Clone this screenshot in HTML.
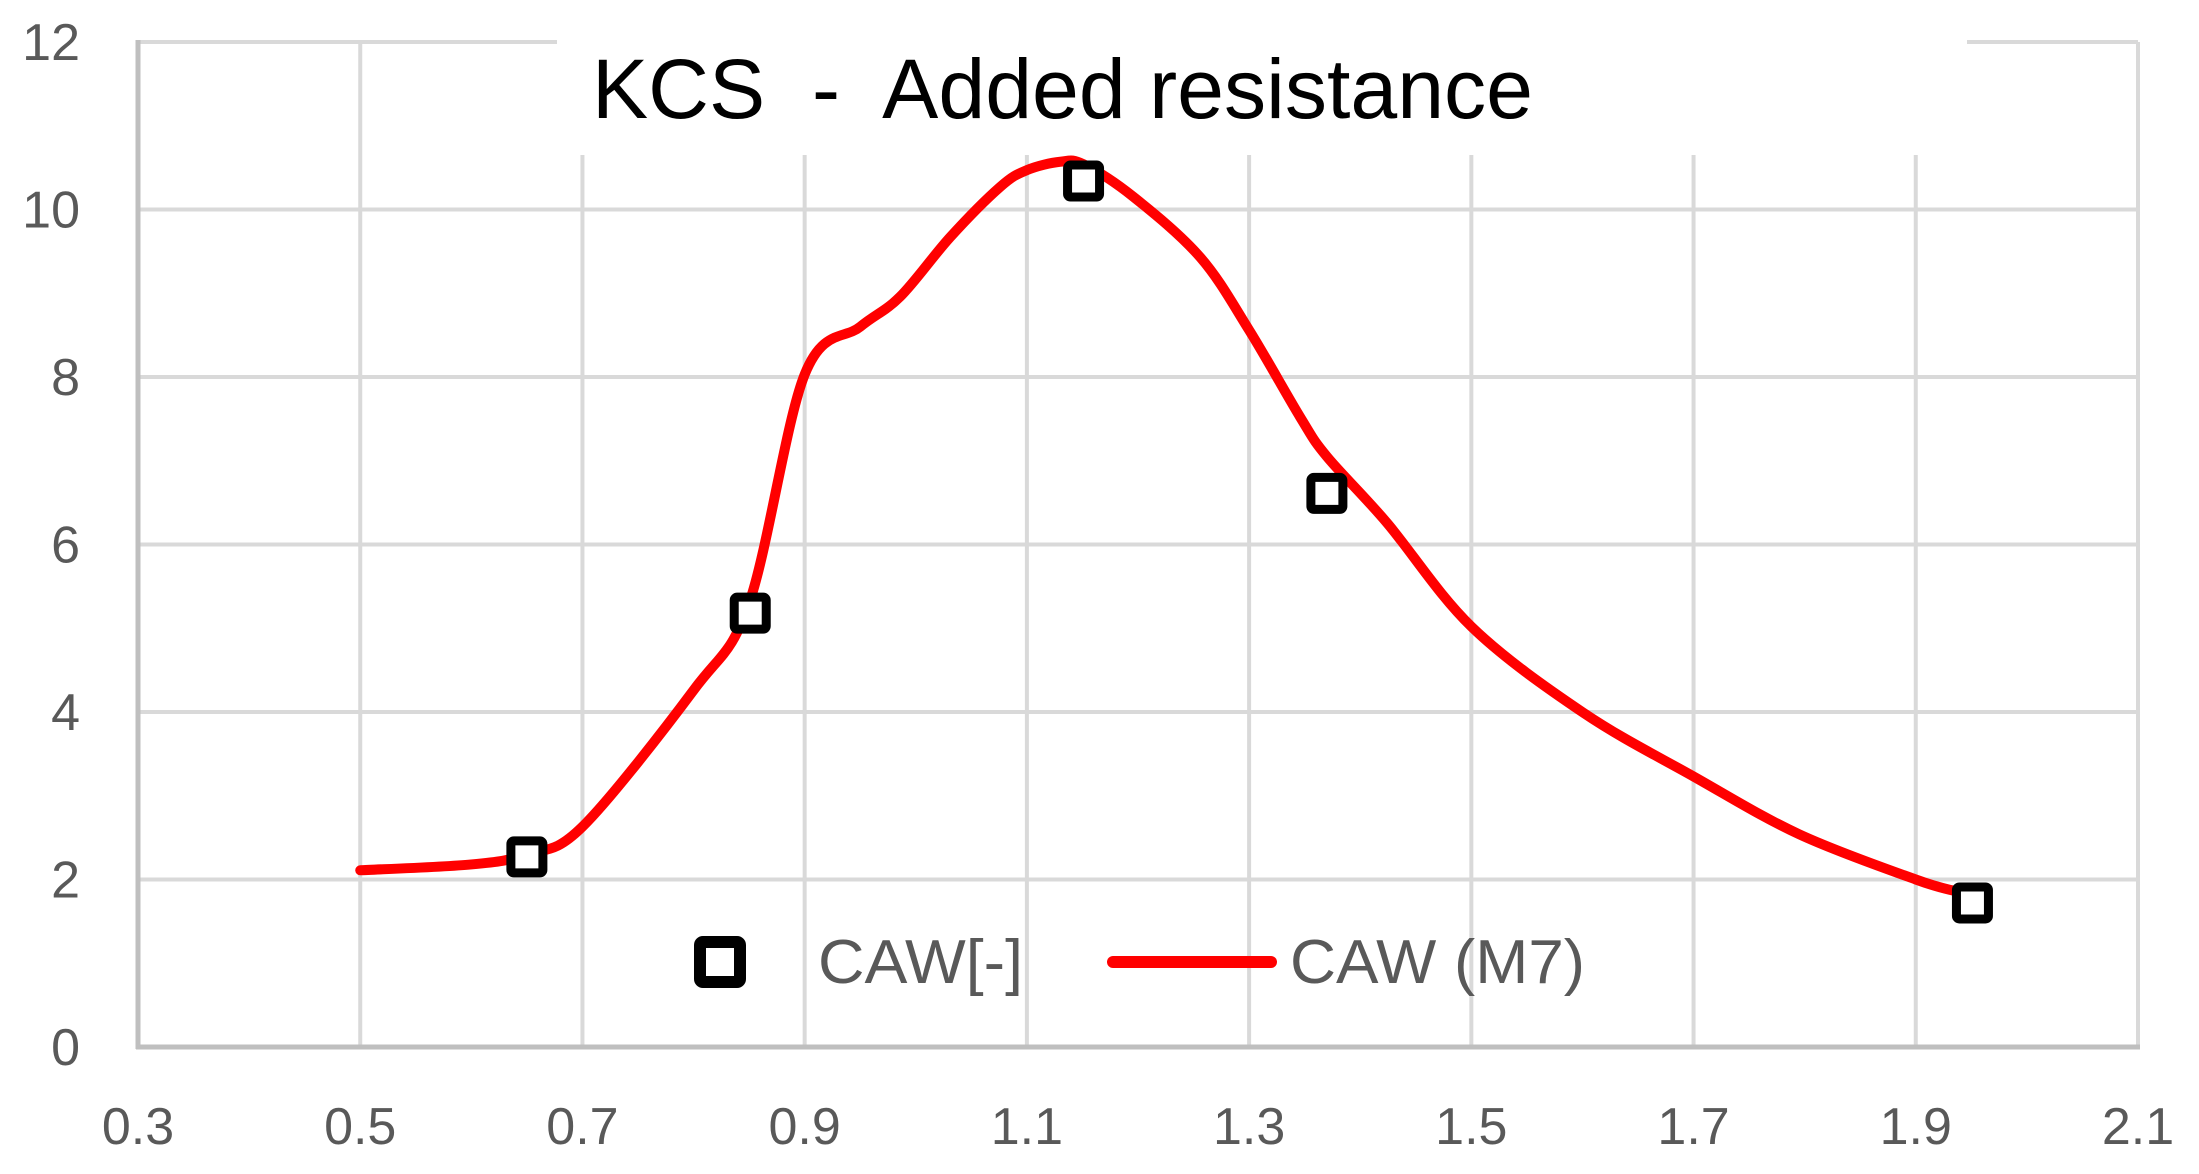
<!DOCTYPE html>
<html><head><meta charset="utf-8"><style>
html,body{margin:0;padding:0;background:#fff;width:2199px;height:1174px;overflow:hidden}
svg{display:block}
</style></head><body>
<svg id="chart" width="2199" height="1174" viewBox="0 0 2199 1174" xmlns="http://www.w3.org/2000/svg">
<rect width="2199" height="1174" fill="#fff"/>
<g id="grid"></g>
<g id="axes"></g>
<rect x="557" y="28" width="1410" height="127" fill="#fff"/>
<text x="592" y="118" font-family="Liberation Sans, Arial, sans-serif" font-size="84" fill="#000" textLength="941" lengthAdjust="spacingAndGlyphs" xml:space="preserve">KCS  -  Added resistance</text>
<g id="series"></g>
<g>
  <rect x="700" y="942" width="40" height="40" rx="3" fill="#fff" stroke="#000" stroke-width="12"/>
  <text x="818" y="983" font-family="Liberation Sans, sans-serif" font-size="62" fill="#595959" textLength="205" lengthAdjust="spacingAndGlyphs">CAW[-]</text>
  <line x1="1113" y1="962" x2="1271" y2="962" stroke="#ff0000" stroke-width="12" stroke-linecap="round"/>
  <text x="1290" y="983" font-family="Liberation Sans, sans-serif" font-size="62" fill="#595959" textLength="295" lengthAdjust="spacingAndGlyphs">CAW (M7)</text>
</g>
</svg>
<script>
const xTicks = [0.3,0.5,0.7,0.9,1.1,1.3,1.5,1.7,1.9,2.1];
const xTickLabels = ["0.3","0.5","0.7","0.9","1.1","1.3","1.5","1.7","1.9","2.1"];
const yTicks = [0,2,4,6,8,10,12];
const yTickLabels = ["0","2","4","6","8","10","12"];
const cawX = [0.65,0.851,1.151,1.370,1.951];
const cawY = [2.27,5.18,10.34,6.61,1.72];
const m7X = [0.5,0.6,0.65,0.7,0.8,0.85,0.9,0.95,0.986,1.031,1.076,1.1,1.13,1.151,1.196,1.256,1.3,1.346,1.37,1.424,1.5,1.601,1.7,1.795,1.9,1.936];
const m7Y = [2.11,2.18,2.3,2.63,4.26,5.3,8.03,8.6,8.96,9.67,10.27,10.47,10.57,10.54,10.15,9.43,8.56,7.52,7.05,6.26,5.02,3.99,3.23,2.54,2.0,1.86];

const X0=138, X1=2138, Y0=1047, Y1=42;
const xMin=0.3,xMax=2.1,yMin=0,yMax=12;
function sx(v){return X0+(v-xMin)/(xMax-xMin)*(X1-X0);}
function sy(v){return Y0-(v-yMin)/(yMax-yMin)*(Y0-Y1);}
const NS="http://www.w3.org/2000/svg";
function mk(tag,attrs,parent){const e=document.createElementNS(NS,tag);for(const k in attrs)e.setAttribute(k,attrs[k]);parent.appendChild(e);return e;}
const grid=document.getElementById('grid'), axes=document.getElementById('axes'), series=document.getElementById('series');

yTicks.forEach((t,i)=>{
  if(t!==0){
    const l=mk('line',{x1:X0,x2:X1,y1:sy(t),y2:sy(t),stroke:'#d9d9d9','stroke-width':4},grid);
    
    
  }
  const tx=mk('text',{x:80,y:sy(t)+18,'text-anchor':'end','font-family':'Liberation Sans, sans-serif','font-size':52,fill:'#595959'},axes);
  tx.textContent=yTickLabels[i];
  
  
});
xTicks.forEach((t,i)=>{
  if(i!==0){
    const l=mk('line',{x1:sx(t),x2:sx(t),y1:Y1,y2:Y0,stroke:'#d9d9d9','stroke-width':4},grid);
    
    
  }
  const tx=mk('text',{x:sx(t),y:1144,'text-anchor':'middle','font-family':'Liberation Sans, sans-serif','font-size':52,fill:'#595959'},axes);
  tx.textContent=xTickLabels[i];
  
  
});
const ya=mk('line',{x1:X0,x2:X0,y1:Y1-2,y2:Y0+2,stroke:'#bfbfbf','stroke-width':5},axes);


const xa=mk('line',{x1:X0-2,x2:X1+2,y1:Y0,y2:Y0,stroke:'#bfbfbf','stroke-width':5},axes);



// smooth curve (Catmull-Rom)
const pts=m7X.map((x,i)=>[sx(x),sy(m7Y[i])]);
let d='M'+pts[0][0]+','+pts[0][1];
for(let i=0;i<pts.length-1;i++){
  const p0=pts[Math.max(0,i-1)],p1=pts[i],p2=pts[i+1],p3=pts[Math.min(pts.length-1,i+2)];
  const c1=[p1[0]+(p2[0]-p0[0])/6,p1[1]+(p2[1]-p0[1])/6];
  const c2=[p2[0]-(p3[0]-p1[0])/6,p2[1]-(p3[1]-p1[1])/6];
  d+=' C'+c1[0]+','+c1[1]+' '+c2[0]+','+c2[1]+' '+p2[0]+','+p2[1];
}
const path=mk('path',{d:d,fill:'none',stroke:'#ff0000','stroke-width':10,'stroke-linecap':'round','stroke-linejoin':'round'},series);



cawX.forEach((x,i)=>{
  const r=mk('rect',{x:sx(x)-16,y:sy(cawY[i])-16,width:32,height:32,rx:3,fill:'#fff',stroke:'#000','stroke-width':9},series);
  
  
});
</script>
</body></html>
